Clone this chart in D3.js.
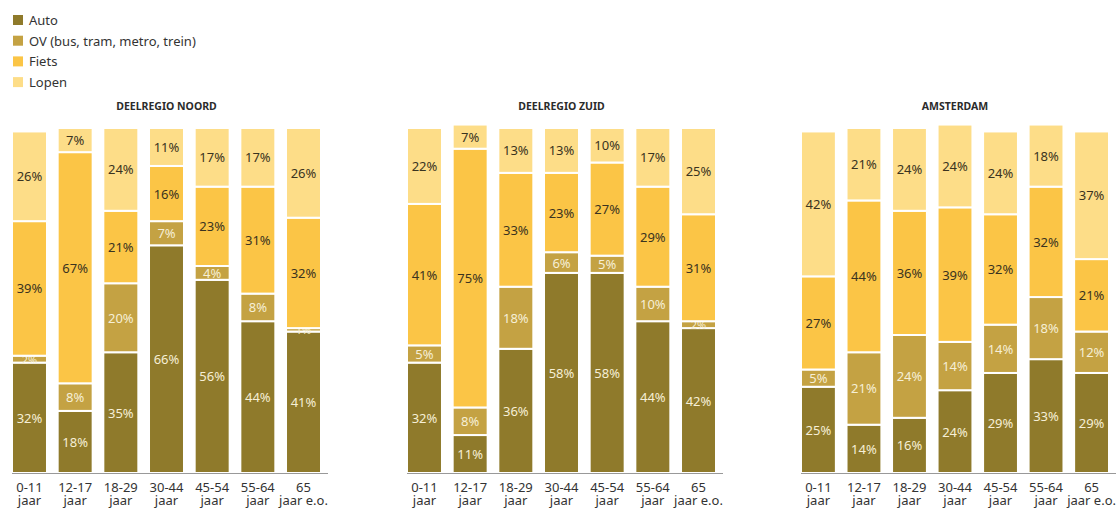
<!DOCTYPE html>
<html lang="nl">
<head>
    <meta charset="UTF-8">
    <title>Vervoerwijze naar leeftijd</title>
    <script src="https://d3js.org/d3.v7.min.js"></script>
    <style>
        body {
            margin: 0;
            background: #fff;
            font-family: "Noto Sans", "Open Sans", sans-serif;
        }
        .seg-label {
            text-anchor: middle;
            dominant-baseline: central;
        }
        .panel-title {
            font-size: 10.5px;
            font-weight: bold;
            fill: #2b2b2b;
            text-anchor: middle;
        }
        .x-label {
            font-size: 13px;
            fill: #333;
            text-anchor: middle;
        }
    </style>
</head>
<body>
    <svg id="chart" width="1116" height="509"></svg>
    <script>
        // series and categories
        const modes = ["Auto", "OV (bus, tram, metro, trein)", "Fiets", "Lopen"];
        const ageGroups = ["0-11|jaar", "12-17|jaar", "18-29|jaar", "30-44|jaar", "45-54|jaar", "55-64|jaar", "65|jaar e.o."];
        const regions = ["DEELREGIO NOORD", "DEELREGIO ZUID", "AMSTERDAM"];

        // percentages per region, one array per mode (order follows ageGroups)
        const noordAuto  = [32, 18, 35, 66, 56, 44, 41];
        const noordOV    = [2, 8, 20, 7, 4, 8, 1];
        const noordFiets = [39, 67, 21, 16, 23, 31, 32];
        const noordLopen = [26, 7, 24, 11, 17, 17, 26];

        const zuidAuto  = [32, 11, 36, 58, 58, 44, 42];
        const zuidOV    = [5, 8, 18, 6, 5, 10, 2];
        const zuidFiets = [41, 75, 33, 23, 27, 29, 31];
        const zuidLopen = [22, 7, 13, 13, 10, 17, 25];

        const adamAuto  = [25, 14, 16, 24, 29, 33, 29];
        const adamOV    = [5, 21, 24, 14, 14, 18, 12];
        const adamFiets = [27, 44, 36, 39, 32, 32, 21];
        const adamLopen = [42, 21, 24, 24, 24, 18, 37];

        const regionData = [
            [noordAuto, noordOV, noordFiets, noordLopen],
            [zuidAuto, zuidOV, zuidFiets, zuidLopen],
            [adamAuto, adamOV, adamFiets, adamLopen]
        ];

        const colors = ["#8f7a2b", "#c4a243", "#fbc546", "#fddd88"];
        const labelColors = ["#f6efd6", "#f6efd6", "#3a3320", "#3a3320"];

        const svg = d3.select("#chart");
        const baseY = 473;
        const y = d3.scaleLinear().domain([0, 100]).range([baseY, baseY - 345]);
        const panelLeft = [12, 407, 801];
        const panelWidth = [309, 309, 308];

        // legend
        const legend = svg.append("g");
        modes.forEach((m, i) => {
            const ly = 20 + i * 20.7;
            legend.append("rect")
                .attr("x", 13).attr("y", ly - 5)
                .attr("width", 10).attr("height", 10)
                .attr("fill", colors[i]);
            legend.append("text")
                .attr("x", 29).attr("y", ly)
                .attr("dominant-baseline", "central")
                .style("font-size", "13px")
                .style("fill", "#333")
                .text(m);
        });

        regions.forEach((name, r) => {
            const g = svg.append("g").attr("transform", `translate(${panelLeft[r]},0)`);
            const x = d3.scaleBand()
                .domain(ageGroups)
                .range([0, panelWidth[r]])
                .paddingInner(0.234)
                .paddingOuter(0);

            g.append("text")
                .attr("class", "panel-title")
                .attr("x", (x(ageGroups[0]) + x(ageGroups[6]) + x.bandwidth()) / 2)
                .attr("y", 110)
                .text(name);

            // stack
            const rows = ageGroups.map((a, i) => {
                const o = { age: a };
                modes.forEach((m, k) => { o[m] = regionData[r][k][i]; });
                return o;
            });
            const series = d3.stack().keys(modes)(rows);

            series.forEach((s, k) => {
                g.selectAll(null)
                    .data(s)
                    .enter()
                    .append("rect")
                    .attr("x", d => x(d.data.age))
                    .attr("width", x.bandwidth())
                    .attr("y", d => y(d[1]))
                    .attr("height", d => y(d[0]) - y(d[1]))
                    .attr("fill", colors[k])
                    .attr("stroke", "#fff")
                    .attr("stroke-width", 2);

                g.selectAll(null)
                    .data(s)
                    .enter()
                    .append("text")
                    .attr("class", "seg-label")
                    .attr("x", d => x(d.data.age) + x.bandwidth() / 2)
                    .attr("y", d => (y(d[0]) + y(d[1])) / 2)
                    .style("fill", labelColors[k])
                    .style("font-size", d => (d[1] - d[0]) < 3 ? "11px" : "13px")
                    .text(d => (d[1] - d[0]) + "%");
            });

            // baseline
            g.append("line")
                .attr("x1", x(ageGroups[0]))
                .attr("x2", panelWidth[r] + 7)
                .attr("y1", baseY + 0.5)
                .attr("y2", baseY + 0.5)
                .attr("stroke", "#999")
                .attr("stroke-width", 1);

            // x labels, two lines each
            ageGroups.forEach(a => {
                const parts = a.split("|");
                const cx = x(a) + x.bandwidth() / 2;
                parts.forEach((p, li) => {
                    g.append("text")
                        .attr("class", "x-label")
                        .attr("x", cx)
                        .attr("y", 492 + li * 13)
                        .text(p);
                });
            });
        });
    </script>
</body>
</html>
